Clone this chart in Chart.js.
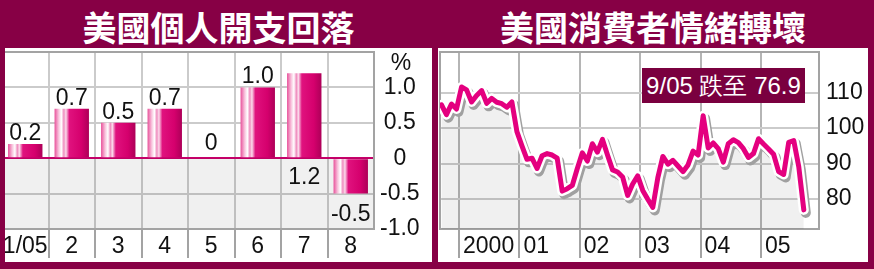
<!DOCTYPE html>
<html>
<head>
<meta charset="utf-8">
<script src="https://cdn.jsdelivr.net/npm/chart.js@4"></script>
<style>
  body { margin: 0; width: 874px; height: 269px; background: #870045; position: relative; overflow: hidden; font-family: "Liberation Sans", Arial, sans-serif; }
  .title { position: absolute; top: 2px; height: 44px; line-height: 44px; color: #fff; font: bold 34px "Noto Sans CJK TC", sans-serif; text-align: center; }
  .panel { position: absolute; top: 48px; height: 214px; background: #fff; overflow: hidden; }
  #p1 { left: 5px; width: 427px; }
  #p2 { left: 438px; width: 430px; }
  canvas { position: absolute; top: 0; }
  #c1 { left: -3px; }
  #c2 { left: 0; }
  .note { position: absolute; left: 642px; top: 68px; width: 163px; height: 35px; line-height: 35px; background: #7a003f; color: #fff; font-size: 24px; text-align: center; white-space: nowrap; }
  .pct { position: absolute; left: 385px; top: 48px; width: 32px; text-align: center; font-size: 23px; line-height: 28px; color: #111; }
</style>
</head>
<body>
<div class="title" style="left:5px;width:427px">美國個人開支回落</div>
<div class="title" style="left:438px;width:430px">美國消費者情緒轉壞</div>
<div class="panel" id="p1"><canvas id="c1" width="430" height="214"></canvas></div>
<div class="panel" id="p2"><canvas id="c2" width="430" height="214"></canvas></div>
<div class="pct">%</div>
<div class="note">9/05 跌至 76.9</div>
<script>
// 個人開支 (月變動 %)
const spendMonths = ['1/05', '2', '3', '4', '5', '6', '7', '8'];
const spending = [0.2, 0.7, 0.5, 0.7, 0, 1.0, 1.2, -0.5];

// 消費者信心 1999-09 ... 2005-09 (monthly)
const sentStart = [1999, 9];
const sentiment = [
  106.6, 103.8, 106.8, 105.4,
  111.6, 110.8, 107.4, 109.2, 110.6, 107.0, 108.4, 107.3, 106.9, 105.9, 107.4, 99.0,
  95.0, 91.2, 91.5, 88.6, 92.2, 92.8, 92.4, 91.5, 82.2, 82.9, 83.8, 88.6,
  93.0, 90.7, 95.6, 93.2, 96.8, 92.4, 88.2, 87.6, 86.2, 81.0, 84.2, 86.5,
  82.4, 79.9, 77.6, 86.0, 92.0, 89.8, 90.9, 89.3, 87.7, 89.6, 93.5, 92.4,
  103.5, 94.4, 95.8, 94.2, 90.4, 95.6, 96.7, 95.9, 94.2, 91.7, 92.8, 97.0,
  95.5, 94.1, 92.6, 87.7, 86.9, 96.0, 96.5, 89.1, 76.9
];
const years = [2000, 2001, 2002, 2003, 2004, 2005];
const yearLabels = ['2000', '01', '02', '03', '04', '05'];
const sentTicks = [80, 90, 100, 110];

const FONT = { family: '"Liberation Sans", Arial, sans-serif', size: 23 };
const MAGENTA = '#e4007f';

// keep the plot area where the original has it: no extra room for edge labels
function noPad(s) {
  s.paddingTop = 0; s.paddingBottom = 0; s.paddingLeft = 0; s.paddingRight = 0;
}

// gray frame round the plot area
const framePlugin = {
  id: 'frame',
  beforeDatasetsDraw(chart) {
    const a = chart.chartArea, ctx = chart.ctx;
    ctx.save();
    ctx.strokeStyle = '#a3a3a3';
    ctx.lineWidth = 2;
    ctx.strokeRect(a.left, a.top, a.right - a.left, a.bottom - a.top);
    ctx.restore();
  }
};

// ---- left: bar chart ----
const shadeBelowZero = {
  id: 'shade',
  beforeDatasetsDraw(chart) {
    const a = chart.chartArea, ctx = chart.ctx;
    const z = chart.scales.y.getPixelForValue(0);
    ctx.save();
    ctx.fillStyle = 'rgba(0,0,0,0.06)';
    ctx.fillRect(a.left, z, a.right - a.left, a.bottom - z);
    ctx.restore();
  }
};

// cylinder-like shading, placed from the category scale
function barGradient(c) {
  const xs = c.chart.scales.x;
  const mid = xs ? xs.getPixelForValue(c.dataIndex) : NaN;
  const w = xs ? xs.width / spending.length * 0.74 : NaN;
  if (!isFinite(mid) || !isFinite(w) || w <= 0) return '#d7006f';
  const g = c.chart.ctx.createLinearGradient(mid - w / 2, 0, mid + w / 2, 0);
  g.addColorStop(0, '#e8509a');
  g.addColorStop(0.12, '#f8c2dc');
  g.addColorStop(0.2, '#ffffff');
  g.addColorStop(0.27, '#ef8cbe');
  g.addColorStop(0.33, '#fbdcec');
  g.addColorStop(0.43, '#e0127e');
  g.addColorStop(0.78, '#d5006d');
  g.addColorStop(1, '#ad0058');
  return g;
}

const barLabels = {
  id: 'barLabels',
  afterDatasetsDraw(chart) {
    const ctx = chart.ctx;
    const meta = chart.getDatasetMeta(0);
    const zero = chart.scales.y.getPixelForValue(0);
    ctx.save();
    ctx.font = FONT.size + 'px ' + FONT.family;
    ctx.fillStyle = '#111';
    ctx.textAlign = 'center';
    ctx.textBaseline = 'alphabetic';
    meta.data.forEach((bar, i) => {
      const v = spending[i];
      const txt = v === 0 ? '0' : v.toFixed(1);
      let y;
      if (v > 1.1) y = zero + 26;          // no room on top: under the zero line
      else if (v > 0) y = bar.y - 4;
      else if (v === 0) y = bar.y - 8;
      else y = bar.y + 27;
      ctx.fillText(txt, bar.x, y);
    });
    ctx.restore();
  }
};

new Chart(document.getElementById('c1'), {
  type: 'bar',
  data: {
    labels: spendMonths,
    datasets: [{
      data: spending,
      backgroundColor: barGradient,
      borderWidth: 0,
      barPercentage: 0.74,
      categoryPercentage: 1
    }]
  },
  options: {
    responsive: false,
    animation: false,
    devicePixelRatio: 1,
    layout: { autoPadding: false, padding: { top: 4, left: 0, right: 0, bottom: 0 } },
    plugins: { legend: { display: false }, tooltip: { enabled: false } },
    scales: {
      x: {
        grid: {
          offset: true,
          color: c => (c.type !== 'tick' || c.index === 0) ? 'rgba(0,0,0,0)' : '#cbcbcb',
          lineWidth: 2,
          tickLength: 29,
          tickColor: c => (c.type !== 'tick' || c.index === 0) ? 'rgba(0,0,0,0)' : '#a3a3a3',
          tickWidth: 2
        },
        border: { display: false },
        ticks: { color: '#111', font: FONT, padding: -25, maxRotation: 0, autoSkip: false },
        afterFit: s => { s.height = 33; noPad(s); }
      },
      y: {
        position: 'right',
        min: -1, max: 1.5,
        grid: {
          color: c => c.tick && c.tick.value === 0 ? '#c8006a' : '#cbcbcb',
          lineWidth: 2,
          drawTicks: false
        },
        border: { display: false },
        ticks: {
          stepSize: 0.5,
          color: '#111',
          font: FONT,
          padding: 6,
          crossAlign: 'center',
          callback: v => v === 1.5 ? '' : (v === 0 ? '0' : v.toFixed(1))
        },
        afterFit: s => { s.width = 58; noPad(s); }
      }
    }
  },
  plugins: [shadeBelowZero, framePlugin, barLabels]
});

// ---- right: line chart ----
const points = sentiment.map((v, i) => {
  const m = sentStart[1] - 1 + i;
  const yr = sentStart[0] + Math.floor(m / 12);
  return { x: yr + ((m % 12) + 0.5) / 12, y: v };
});

const lineShadow = {
  id: 'lineShadow',
  beforeDatasetDraw(chart, args) {
    if (args.index !== 1) return;
    const ctx = chart.ctx;
    ctx.save();
    ctx.shadowColor = '#a0a0a0';
    ctx.shadowOffsetX = 2;
    ctx.shadowOffsetY = 3;
    ctx.shadowBlur = 0;
  },
  afterDatasetDraw(chart, args) {
    if (args.index !== 1) return;
    chart.ctx.restore();
  }
};

new Chart(document.getElementById('c2'), {
  type: 'line',
  data: {
    datasets: [
      { data: points, borderWidth: 0, pointRadius: 0, fill: 'start', backgroundColor: 'rgba(0,0,0,0.06)', order: 3 },
      { data: points, borderColor: '#ffffff', borderWidth: 10, pointRadius: 0, fill: false,
        borderJoinStyle: 'round', borderCapStyle: 'round', order: 2 },
      { data: points, borderColor: MAGENTA, borderWidth: 5, pointRadius: 0, fill: false,
        borderJoinStyle: 'round', borderCapStyle: 'round', order: 1 }
    ]
  },
  options: {
    responsive: false,
    animation: false,
    devicePixelRatio: 1,
    layout: { autoPadding: false, padding: { top: 4, left: 2, right: 0, bottom: 0 } },
    plugins: { legend: { display: false }, tooltip: { enabled: false } },
    scales: {
      x: {
        type: 'linear',
        min: 1999.685, max: 2005.96,
        afterBuildTicks: s => { s.ticks = years.map(v => ({ value: v })); },
        grid: { color: '#b5b5b5', lineWidth: 2, tickLength: 29, tickColor: '#a3a3a3', tickWidth: 2 },
        border: { display: false },
        ticks: {
          color: '#111', font: FONT, padding: -25, align: 'start', labelOffset: 4,
          maxRotation: 0, autoSkip: false,
          callback: (v, i) => yearLabels[i]
        },
        afterFit: s => { s.height = 33; noPad(s); }
      },
      y: {
        position: 'right',
        min: 71.5, max: 121.5,
        afterBuildTicks: s => { s.ticks = sentTicks.map(v => ({ value: v })); },
        grid: { color: '#cbcbcb', lineWidth: 2, drawTicks: false },
        border: { display: false },
        ticks: { color: '#111', font: FONT, padding: 7 },
        afterFit: s => { s.width = 49; noPad(s); }
      }
    }
  },
  plugins: [framePlugin, lineShadow]
});
</script>
</body>
</html>
